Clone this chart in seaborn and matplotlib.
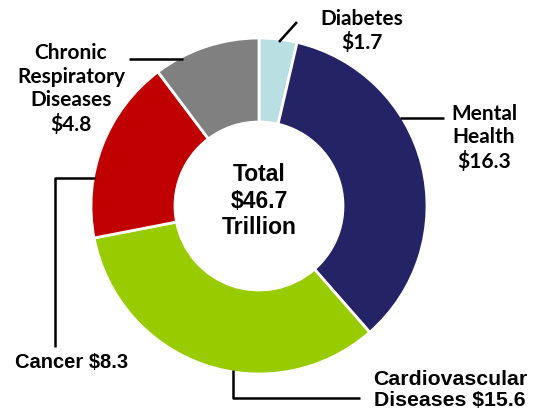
import matplotlib
matplotlib.use("Agg")
import matplotlib.pyplot as plt
import seaborn as sns

# Global cost of non-communicable diseases (US$ trillion)
categories = ["Diabetes", "Mental Health", "Cardiovascular Diseases", "Cancer",
              "Chronic Respiratory Diseases"]
values = [1.7, 16.3, 15.6, 8.3, 4.8]
colors = ["#B9DFE3", "#232366", "#99CC00", "#C00000", "#808080"]
total_label = "Total\n$46.7\nTrillion"

sns.set_theme(style="white")
plt.rcParams["font.family"] = ["Liberation Sans", "DejaVu Sans"]

W, H = 538, 413
fig = plt.figure(figsize=(W / 100, H / 100), dpi=100)

# donut in a y-up pixel frame
pax = fig.add_axes([0, 0, 1, 1])
cx, cy, r_out, r_in = 259, H - 206, 168, 84
pax.pie(values, colors=colors, startangle=90, counterclock=False,
        center=(cx, cy), radius=r_out, frame=True,
        wedgeprops=dict(width=r_out - r_in, edgecolor="white", linewidth=2))
pax.set_xlim(0, W)
pax.set_ylim(0, H)
pax.set_aspect("auto")
pax.axis("off")

# overlay for text and leader lines, y-down pixel frame
ax = fig.add_axes([0, 0, 1, 1])
ax.set_xlim(0, W)
ax.set_ylim(H, 0)
ax.axis("off")

arial = dict(fontweight="bold", color="black", ha="center", va="center",
             family=["Liberation Sans", "DejaVu Sans"])
calib = dict(fontweight="bold", color="black", ha="center", va="center",
             family=["Lato", "DejaVu Sans"], fontsize=15, linespacing=1.22)

# centre text
ax.text(cx, 201, total_label, fontsize=16.5, linespacing=1.2, **arial)

# leader lines
lk = dict(color="black", lw=1.8, solid_capstyle="butt")
ax.plot([279, 297], [42, 22], **lk)
ax.plot([400, 444], [118, 118], **lk)
ax.plot([129, 183], [59, 59], **lk)
ax.plot([95, 55, 55], [178, 178, 347], **lk)
ax.plot([233, 233, 360], [370, 398, 398], **lk)

# segment labels
ax.text(362, 31, "Diabetes\n$1.7", **calib)
ax.text(484, 138, "Mental\nHealth\n$16.3", **calib)
ax.text(71, 89, "Chronic\nRespiratory\nDiseases\n$4.8", **calib)
ax.text(72, 362, "Cancer $8.3", fontsize=14.5, **arial)
ax.text(450, 390, "Cardiovascular\nDiseases $15.6", fontsize=15.3,
        linespacing=1.1, **arial)

fig.savefig("out.png", dpi=100)
